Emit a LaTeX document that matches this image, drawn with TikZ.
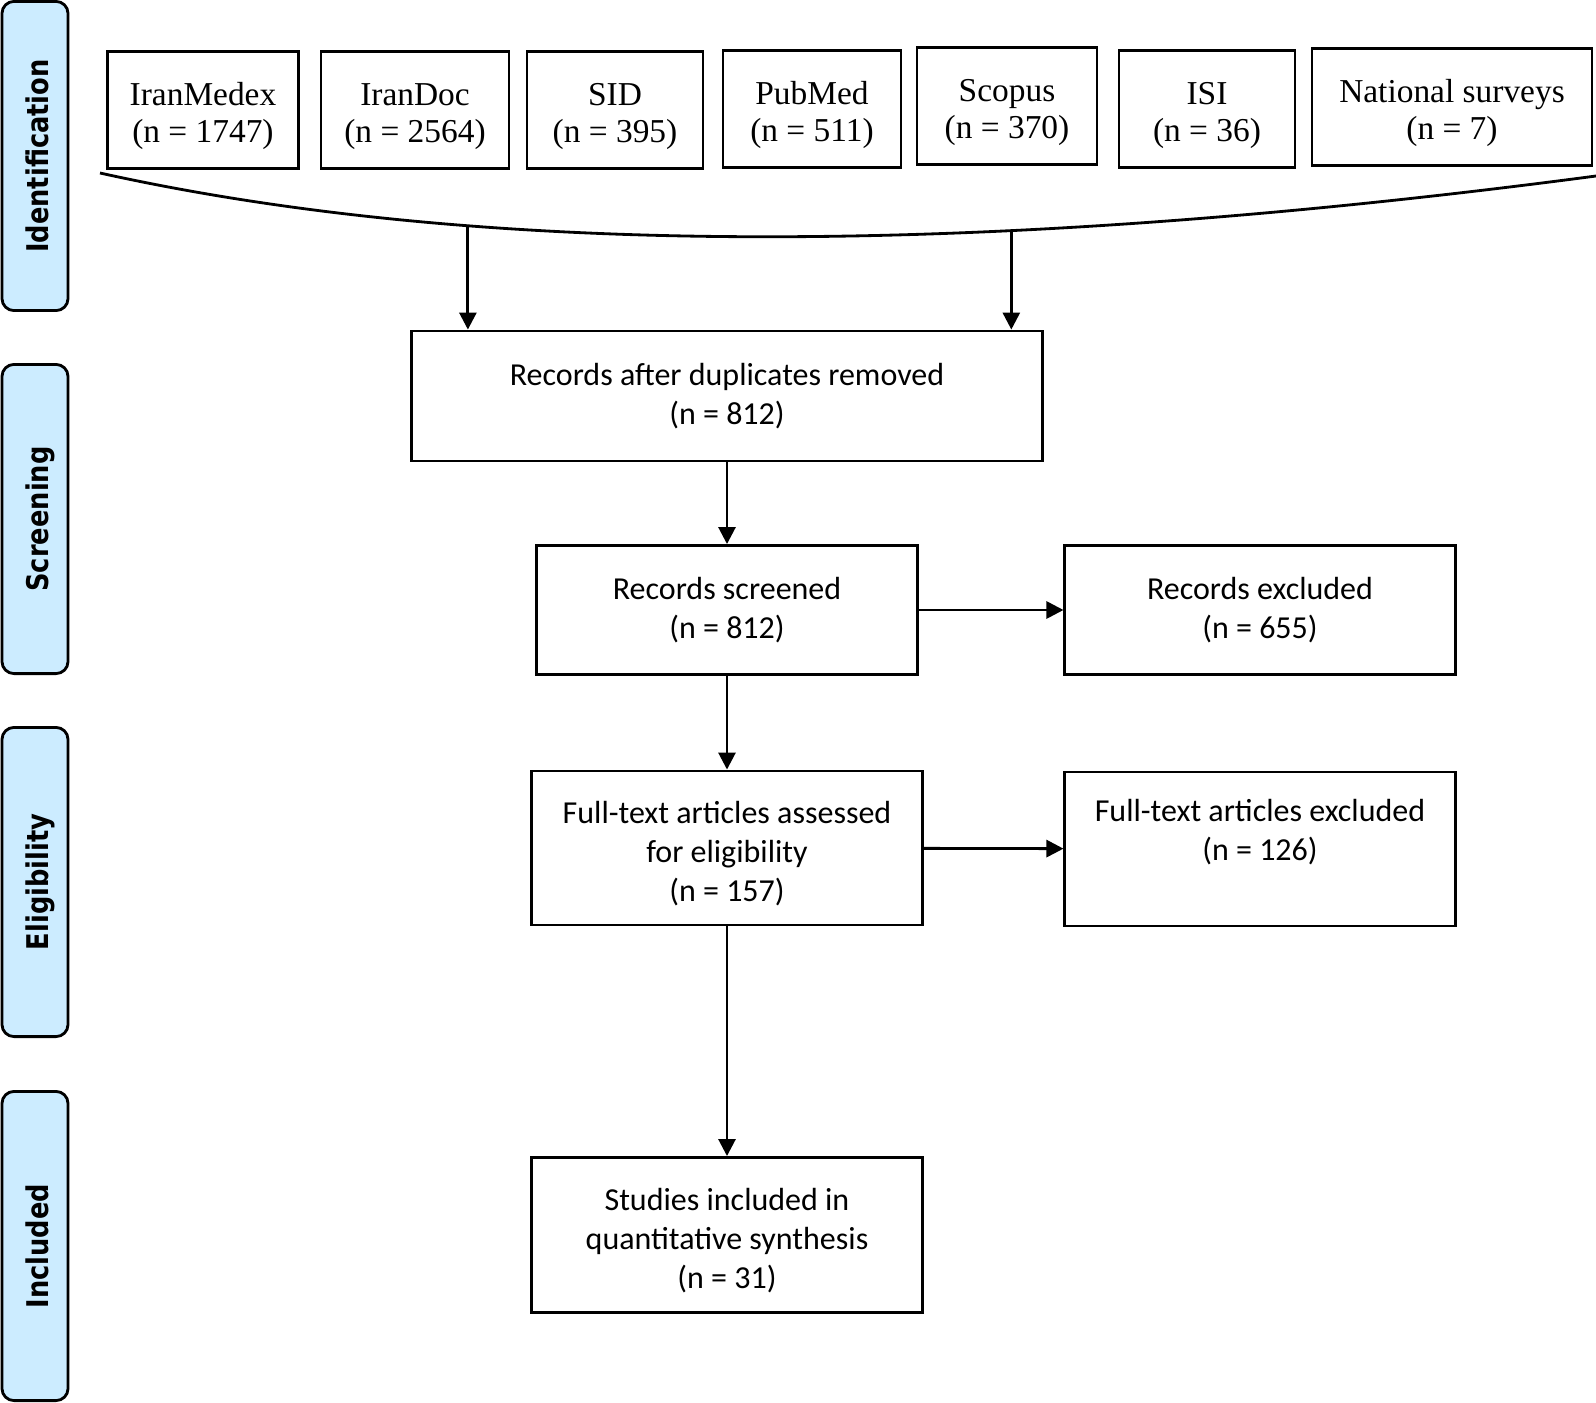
\documentclass[tikz,border=0pt]{standalone}
\usepackage{fontspec}
\setmainfont{Carlito}
\newfontfamily\dbfont{Liberation Serif}
\newfontfamily\stagefont[FakeStretch=0.86]{DejaVu Sans}
\usetikzlibrary{arrows.meta}
\definecolor{stagefill}{RGB}{204,236,255}
\newcommand{\dbtop}{\rule{0pt}{10pt}}
\newcommand{\flowtop}{\rule{0pt}{9.6pt}}

\begin{document}
\begin{tikzpicture}[x=0.01cm, y=-0.01cm,
    line width=0.8pt,
    dbbox/.style={draw, inner sep=0pt, minimum height=1.17cm, align=center,
        font=\dbfont\fontsize{9.5}{10.7}\selectfont},
    flowbox/.style={draw, inner sep=0pt, align=center,
        font=\fontsize{9.1}{11}\selectfont},
    stage/.style={draw, rounded corners=0.12cm, fill=stagefill, rotate=90,
        minimum width=3.09cm, minimum height=0.66cm, inner sep=0pt,
        font=\stagefont\bfseries\fontsize{8.5}{9}\selectfont,
        execute at begin node={\rule[-2pt]{0pt}{11.6pt}}},
    arr/.style={-{Triangle[length=0.17cm, width=0.17cm]}}]
    \useasboundingbox (0, 0) rectangle (1596, 1403);

    % stages
    \node[stage] (ident) at (35, 156) {Identification};
    \node[stage] (screen) at (35, 519) {Screening};
    \node[stage] (elig) at (35, 882) {Eligibility};
    \node[stage] (incl) at (35, 1246) {Included};

    % databases
    \node[dbbox, minimum width=1.91cm] (iranmedex) at (203, 110) {\dbtop IranMedex\\(n = 1747)};
    \node[dbbox, minimum width=1.88cm] (irandoc) at (415, 110) {\dbtop IranDoc\\(n = 2564)};
    \node[dbbox, minimum width=1.76cm] (sid) at (615, 110) {\dbtop SID\\(n = 395)};
    \node[dbbox, minimum width=1.78cm] (pubmed) at (812, 109) {\dbtop PubMed\\(n = 511)};
    \node[dbbox, minimum width=1.80cm] (scopus) at (1007, 106) {\dbtop Scopus\\(n = 370)};
    \node[dbbox, minimum width=1.76cm] (isi) at (1207, 109) {\dbtop ISI\\(n = 36)};
    \node[dbbox, minimum width=2.80cm] (natsurv) at (1452, 107) {\dbtop National surveys\\(n = 7)};

    % brace under the databases
    \draw (100, 173) .. controls (479, 257) and (977, 258) .. (1596, 176)
        coordinate[pos=0.296] (bl) coordinate[pos=0.663] (br);

    % flow
    \node[flowbox, minimum width=6.30cm, minimum height=1.30cm] (dup) at (727, 396)
        {Records after duplicates removed\\(n = 812)};
    \node[flowbox, minimum width=3.80cm, minimum height=1.29cm] (scr) at (727, 610)
        {Records screened\\(n = 812)};
    \node[flowbox, minimum width=3.90cm, minimum height=1.29cm] (exc) at (1260, 610)
        {Records excluded\\(n = 655)};
    \node[flowbox, minimum width=3.90cm, minimum height=1.54cm] (full) at (727, 848)
        {\flowtop Full-text articles assessed\\for eligibility\\(n = 157)};
    \node[flowbox, minimum width=3.90cm, minimum height=1.54cm] (fexc) at (1260, 849)
        {\flowtop Full-text articles excluded\\(n = 126)\\\strut};
    \node[flowbox, minimum width=3.90cm, minimum height=1.55cm] (studies) at (727, 1235)
        {\flowtop Studies included in\\quantitative synthesis\\(n = 31)};

    \draw[arr] (bl) -- (bl |- dup.north);
    \draw[arr] (br) -- (br |- dup.north);
    \draw[arr] (dup) -- (scr);
    \draw[arr] (scr) -- (exc);
    \draw[arr] (scr) -- (full);
    \draw[arr] (full) -- (fexc);
    \draw[arr] (full) -- (studies);
\end{tikzpicture}
\end{document}
